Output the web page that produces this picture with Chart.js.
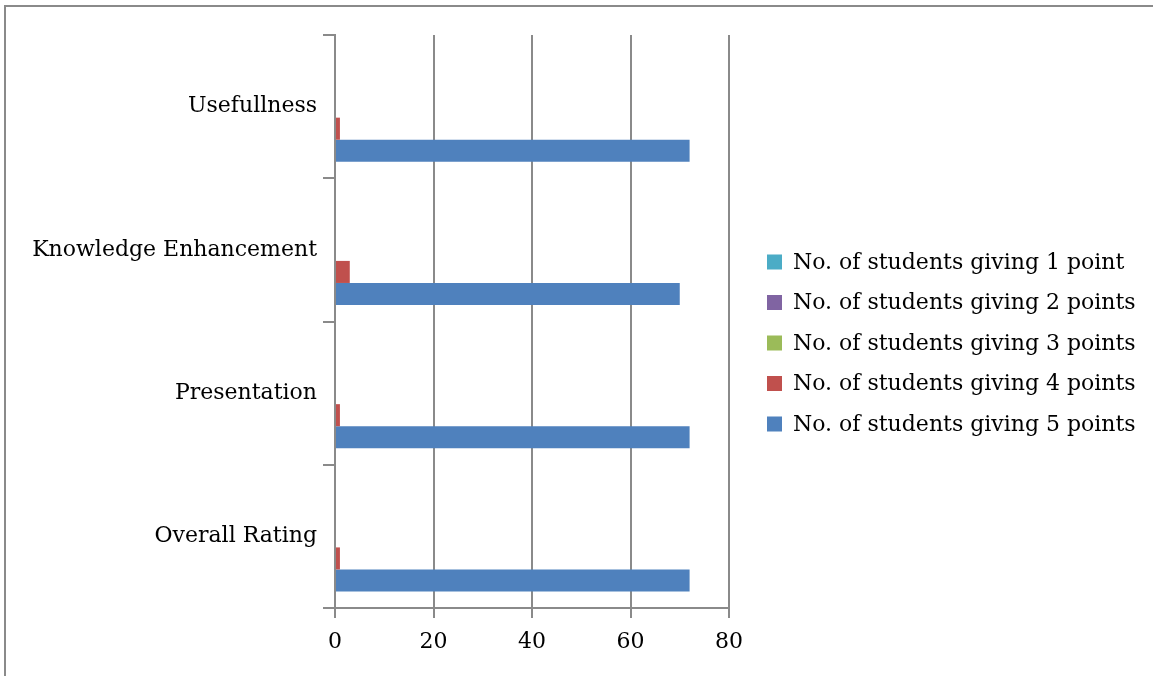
<!DOCTYPE html>
<html>
<head>
<meta charset="utf-8">
<script src="https://cdn.jsdelivr.net/npm/chart.js@4/dist/chart.umd.min.js"></script>
<style>
  html, body { margin: 0; padding: 0; background: #fff; }
  #wrap { position: relative; width: 1153px; height: 676px; overflow: hidden; }
  #frame { position: absolute; left: 4px; top: 5px; right: -10px; bottom: -10px; border-top: 2px solid #8a8a8a; border-left: 2px solid #8a8a8a; }
  canvas { position: absolute; left: 0; top: 0; }
</style>
</head>
<body>
<div id="wrap">
  <canvas id="chart" width="1153" height="676"></canvas>
  <div id="frame"></div>
</div>
<script>
// categories, top to bottom
var categories = ["Usefullness", "Knowledge Enhancement", "Presentation", "Overall Rating"];
// series
var seriesNames = ["No. of students giving 1 point", "No. of students giving 2 points", "No. of students giving 3 points", "No. of students giving 4 points", "No. of students giving 5 points"];
var onePoint = [0, 0, 0, 0];
var twoPoints = [0, 0, 0, 0];
var threePoints = [0, 0, 0, 0];
var fourPoints = [1, 3, 1, 1];
var fivePoints = [72, 70, 72, 72];
var xTicks = [0, 20, 40, 60, 80];

var colors = ["#4BACC6", "#8064A2", "#9BBB59", "#C0504D", "#4F81BD"];
var values = [onePoint, twoPoints, threePoints, fourPoints, fivePoints];
var gridColor = "#8a8a8a";
var font = { family: "DejaVu Serif", size: 22 };

var datasets = [];
for (var i = 0; i < values.length; i++) {
  datasets.push({
    label: seriesNames[i],
    data: values[i],
    backgroundColor: colors[i],
    borderWidth: 0,
    categoryPercentage: 0.77,
    barPercentage: 1.0
  });
}

// legend drawn to the right of the plot, like the Excel one
var sideLegend = {
  id: 'sideLegend',
  afterDraw: function (chart) {
    var ctx = chart.ctx;
    var rowGap = 40.5;
    var midY = 343;
    ctx.save();
    ctx.font = font.size + "px '" + font.family + "'";
    ctx.textBaseline = 'middle';
    ctx.textAlign = 'left';
    chart.data.datasets.forEach(function (ds, k) {
      var y = midY + (k - 2) * rowGap;
      ctx.fillStyle = ds.backgroundColor;
      ctx.fillRect(767, y - 7.5, 15, 15);
      ctx.fillStyle = "#000";
      ctx.fillText(ds.label, 793, y + 1);
    });
    ctx.restore();
  }
};

new Chart(document.getElementById("chart"), {
  type: 'bar',
  data: { labels: categories, datasets: datasets },
  plugins: [sideLegend],
  options: {
    indexAxis: 'y',
    responsive: false,
    animation: false,
    layout: { padding: { top: 35, left: 0, right: 424, bottom: 0 } },
    plugins: {
      tooltip: { enabled: false },
      legend: { display: false }
    },
    scales: {
      x: {
        min: 0,
        max: 80,
        afterBuildTicks: function (scale) {
          scale.ticks = xTicks.map(function (v) { return { value: v }; });
        },
        afterFit: function (scale) { scale.height = 68; },
        grid: { color: gridColor, lineWidth: 2, tickLength: 10 },
        border: { color: gridColor, width: 2 },
        ticks: { font: font, color: "#000", padding: 11 }
      },
      y: {
        afterFit: function (scale) { scale.width = 335; },
        grid: { drawOnChartArea: false, offset: true, color: gridColor, lineWidth: 2, tickLength: 12 },
        border: { color: gridColor, width: 2 },
        ticks: { font: font, color: "#000", padding: 6 }
      }
    }
  }
});
</script>
</body>
</html>
